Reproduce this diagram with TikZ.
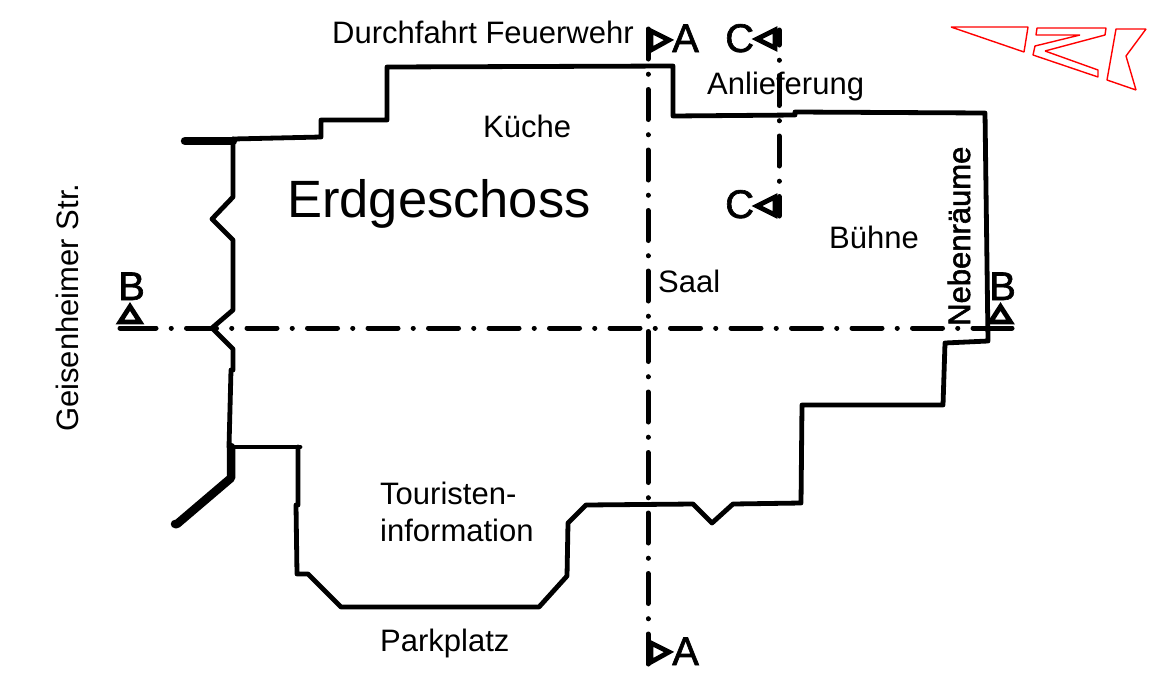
\documentclass[tikz,border=0pt]{standalone}
\usepackage{fontspec}
\setmainfont{Liberation Sans}
\newfontfamily\fatfont[FakeBold=1.6]{Liberation Sans}
\newfontfamily\semifont[FakeBold=1.8]{Liberation Sans}
\tikzset{
 wall/.style={line width=4.8pt,line join=round,line cap=round,black},
 heavy/.style={line width=8.5pt,line join=round,line cap=round,black},
 cut/.style={line width=5pt,line cap=round,dash pattern=on 30pt off 15.2pt on 0.1pt off 15.2pt},
 cutend/.style={line width=5pt,line cap=round},
 marker/.style={line width=4.8pt,line join=miter,fill=white,draw=black},
 lab/.style={font=\fontsize{31}{34}\selectfont,inner sep=0pt,anchor=base west},
 big/.style={font=\fontsize{40}{44}\selectfont\fatfont,inner sep=0pt,anchor=base west},
 logo/.style={draw=red,line width=1.4pt,line join=bevel}
}
\begin{document}
\begin{tikzpicture}[x=1pt,y=-1pt]
\useasboundingbox (0,0) rectangle (1158,675);
% cut lines
\coordinate (at) at (648,29); \coordinate (ab) at (648,664);
\coordinate (bl) at (120,328); \coordinate (bm) at (126,328);
\coordinate (brm) at (990,328); \coordinate (br) at (1012,328);
\coordinate (ct) at (779,30); \coordinate (cb) at (779,216);
\draw[cut] (at) -- (ab);
\draw[cut] (bm) -- (brm);
\draw[cutend] (bl) -- (bm);
\draw[cutend] (brm) -- (br);
\draw[cut,dash phase=15] (ct) -- (cb);
% outline
\draw[wall] (233,139) -- (321,137) -- (321,120) -- (387,120) -- (387,67) -- (673,66) -- (673,116) -- (795,115) -- (795,112) -- (985,113) -- (988,341) -- (945,343) -- (943,405) -- (802,405) -- (801,503) -- (733,504) -- (712,523) -- (693,504) -- (586,505) -- (568,523) -- (567,576) -- (539,607) -- (341,607) -- (308,574) -- (297,574) -- (296,505) -- (298,505) -- (298,447);
\draw[wall] (300,447) -- (231,447);
\draw[wall] (233,139) -- (233,197) -- (212,219) -- (233,240) -- (233,310) -- (212,328) -- (233,349) -- (233,370) -- (231,370) -- (229,447);
\draw[heavy] (185,141) -- (233,141);
\draw[heavy] (231,447) -- (231,478) -- (177,524) -- (175,524);
% markers
\draw[marker] (651,31) -- (669,40) -- (651,50) -- cycle;
\draw[marker] (651,643) -- (669,652) -- (651,662) -- cycle;
\draw[marker] (775,30) -- (757,39) -- (775,48) -- cycle;
\draw[marker] (775,197) -- (757,206) -- (775,215) -- cycle;
\draw[marker] (120,322) -- (130,306.5) -- (140,322) -- cycle;
\draw[marker] (990.5,322) -- (1000.5,306.5) -- (1010.5,322) -- cycle;
% logo
\draw[logo] (951,27) -- (1028,27) -- (1024,52) -- cycle;
\draw[logo] (1037,28) -- (1106,28) -- (1105,35) -- (1045,51) -- (1098,70) -- (1098,77) -- (1033,55) -- (1035,46) -- (1080,35) -- (1036,35) -- cycle;
\draw[logo] (1116,29) -- (1146,29) -- (1126,56) -- (1136,90) -- (1107,80) -- cycle;
% text
\node[lab] (durch) at (332,43) {Durchfahrt Feuerwehr};
\node[lab] (anl) at (707,94) {Anlieferung};
\node[lab] (kue) at (483,137) {Küche};
\node[lab,font=\fontsize{52.5}{56}\selectfont] (eg) at (287,217) {Erdgeschoss};
\node[lab] (buehne) at (829,248) {Bühne};
\node[lab] (saal) at (658,292) {Saal};
\node[lab] (tour1) at (380,504) {Touristen-};
\node[lab] (tour2) at (380,541) {information};
\node[lab] (park) at (380,651) {Parkplatz};
\node[lab,rotate=90] (geis) at (78,432) {Geisenheimer Str.};
\node[lab,rotate=90,font=\fontsize{31}{34}\selectfont\semifont] (neben) at (970,326) {Nebenräume};
\node[big] (la) at (672,52) {A};
\node[big] (lat) at (672,665) {A};
\node[big] (lc) at (725,52) {C};
\node[big] (lcb) at (725,218) {C};
\node[big] (lb) at (118,300) {B};
\node[big] (lbr) at (989,300) {B};
\end{tikzpicture}
\end{document}
